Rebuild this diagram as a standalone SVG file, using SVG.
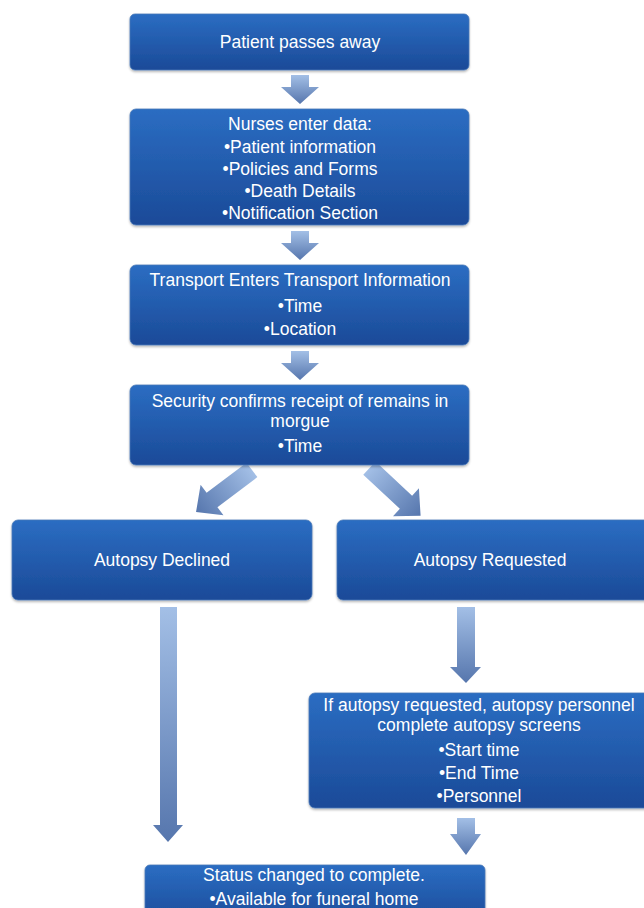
<svg xmlns="http://www.w3.org/2000/svg" width="644" height="908" viewBox="0 0 644 908">
<style>
.box{fill:url(#bg);stroke:#4a78b8;stroke-width:0.8}
.t{font-family:"Liberation Sans",Arial,sans-serif;font-size:17.5px;fill:#ffffff;text-anchor:middle}
.arr{fill:url(#ag)}
</style>
<defs>
<linearGradient id="bg" x1="0" y1="0" x2="0" y2="1">
<stop offset="0" stop-color="#2b6dc2"/>
<stop offset="1" stop-color="#1b4a98"/>
</linearGradient>
<linearGradient id="ag" x1="0" y1="0" x2="0" y2="1">
<stop offset="0" stop-color="#a3bfe6"/>
<stop offset="1" stop-color="#5676ad"/>
</linearGradient>
<filter id="sh" x="-5%" y="-5%" width="110%" height="120%">
<feDropShadow dx="0" dy="1.5" stdDeviation="1.2" flood-color="#000" flood-opacity="0.3"/>
</filter>
</defs>
<g id="connectors">
<polygon class="arr" points="291,75 309,75 309,87 319,87 300,104 281,87 291,87"/>
<polygon class="arr" points="291,231 309,231 309,243 319,243 300,260 281,243 291,243"/>
<polygon class="arr" points="291,351 309,351 309,363 319,363 300,380 281,363 291,363"/>
<g transform="translate(224,491) rotate(53)"><polygon class="arr" points="-9,-35 9,-35 9,15 19,15 0,35 -19,15 -9,15"/></g>
<g transform="translate(395,492) rotate(-47)"><polygon class="arr" points="-9,-35 9,-35 9,15 19,15 0,35 -19,15 -9,15"/></g>
<polygon class="arr" points="160,607 177,607 177,825 183,825 168,842 153,825 160,825"/>
<polygon class="arr" points="457,607 475,607 475,667 481,667 466,683 450,667 457,667"/>
<polygon class="arr" points="457,818 475,818 475,834 481,834 466,855 450,834 457,834"/>
</g>
<g id="n1"><rect class="box" filter="url(#sh)" x="130" y="14" width="339" height="56" rx="5"/><text class="t" x="300" y="48">Patient passes away</text></g>
<g id="n2"><rect class="box" filter="url(#sh)" x="130" y="109" width="339" height="116" rx="6"/>
<text class="t" x="300" y="130">Nurses enter data:</text>
<text class="t" x="300" y="153">•Patient information</text>
<text class="t" x="300" y="175">•Policies and Forms</text>
<text class="t" x="300" y="197">•Death Details</text>
<text class="t" x="300" y="219">•Notification Section</text></g>
<g id="n3"><rect class="box" filter="url(#sh)" x="130" y="265" width="339" height="80" rx="6"/>
<text class="t" x="300" y="286">Transport Enters Transport Information</text>
<text class="t" x="300" y="312">•Time</text>
<text class="t" x="300" y="335">•Location</text></g>
<g id="n4"><rect class="box" filter="url(#sh)" x="130" y="385" width="339" height="80" rx="6"/>
<text class="t" x="300" y="407">Security confirms receipt of remains in</text>
<text class="t" x="300" y="427">morgue</text>
<text class="t" x="300" y="452">•Time</text></g>
<g id="n5"><rect class="box" filter="url(#sh)" x="12" y="520" width="300" height="80" rx="6"/>
<text class="t" x="162" y="566">Autopsy Declined</text></g>
<g id="n6"><rect class="box" filter="url(#sh)" x="337" y="520" width="314" height="80" rx="6"/>
<text class="t" x="490" y="566">Autopsy Requested</text></g>
<g id="n7"><rect class="box" filter="url(#sh)" x="309" y="693" width="342" height="115" rx="6"/>
<text class="t" x="479" y="711">If autopsy requested, autopsy personnel</text>
<text class="t" x="479" y="731">complete autopsy screens</text>
<text class="t" x="479" y="756">•Start time</text>
<text class="t" x="479" y="779">•End Time</text>
<text class="t" x="479" y="802">•Personnel</text></g>
<g id="n8"><rect class="box" filter="url(#sh)" x="145" y="865" width="340" height="60" rx="5"/>
<text class="t" x="314" y="881">Status changed to complete.</text>
<text class="t" x="314" y="905">•Available for funeral home</text></g>
</svg>
